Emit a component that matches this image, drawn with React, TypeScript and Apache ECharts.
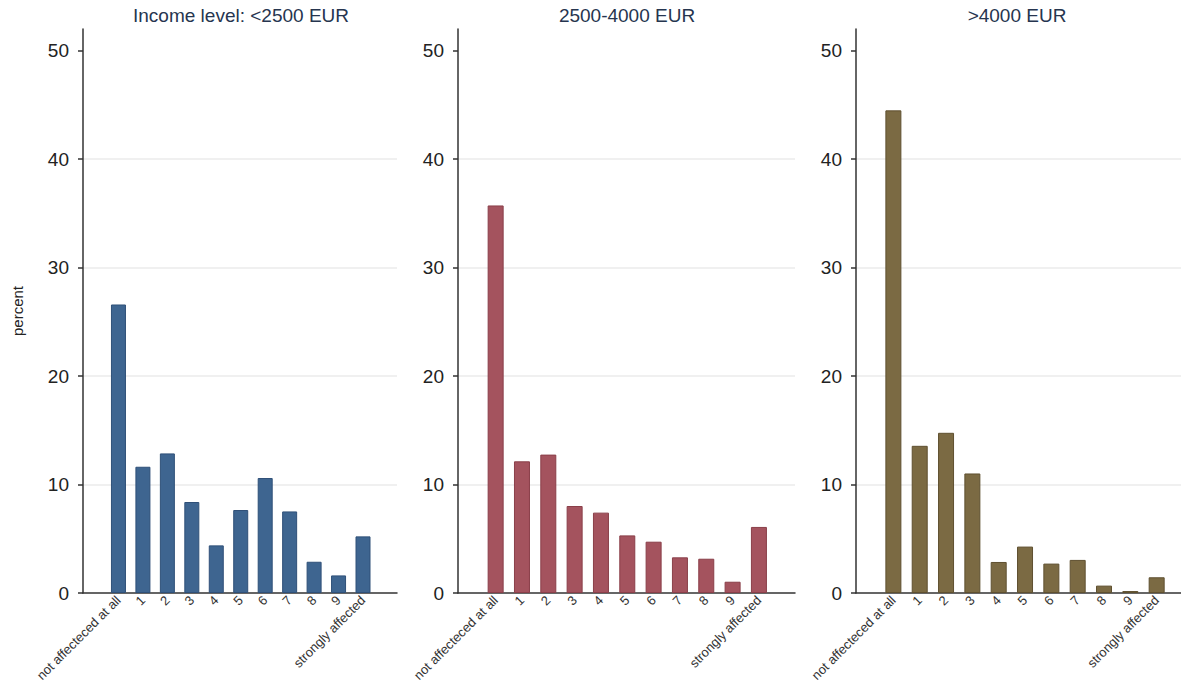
import React, { useEffect, useRef } from "react";
import * as echarts from "echarts";

const categories = [
  "not affecteced at all", "1", "2", "3", "4", "5", "6", "7", "8", "9", "strongly affected",
];
const panelTitles = ["Income level: <2500 EUR", "2500-4000 EUR", ">4000 EUR"];
const lowIncome = [26.6, 11.64, 12.87, 8.39, 4.39, 7.65, 10.6, 7.52, 2.88, 1.62, 5.22];
const midIncome = [35.73, 12.14, 12.76, 8.02, 7.41, 5.31, 4.73, 3.29, 3.16, 1.04, 6.09];
const highIncome = [44.5, 13.57, 14.77, 11.02, 2.86, 4.28, 2.71, 3.05, 0.68, 0.18, 1.45];
const yTicks = [0, 10, 20, 30, 40, 50];
const yMax = 52;

const FONT = "'Liberation Sans', Arial, Helvetica, sans-serif";
const colors = ["#3e6590", "#a4535e", "#7b6a43"];
const borders = ["#2f5078", "#8a3f49", "#5f5030"];

const layouts = [
  { left: 83, width: 314, min: -1.45, max: 11.39, barWidth: 15, titleX: 241 },
  { left: 458, width: 337, min: -1.43, max: 11.37, barWidth: 16, titleX: 627 },
  { left: 856, width: 337, min: -1.42, max: 11.38, barWidth: 16, titleX: 1017 },
];

export default function App() {
  const ref = useRef<HTMLDivElement>(null);
  useEffect(() => {
    if (!ref.current) return;
    document.body.style.margin = "0";
    const chart = echarts.init(ref.current, null, { renderer: "svg" });
    const series = [lowIncome, midIncome, highIncome];
    const xIdx = categories.map((_, i) => i);
    const option: any = {
      animation: false,
      backgroundColor: "#ffffff",
      textStyle: { fontFamily: FONT },
      graphic: layouts.map((l, i) => ({
        type: "text",
        x: l.titleX,
        y: 15,
        style: {
          text: panelTitles[i],
          fill: "#26354f",
          font: `19px ${FONT}`,
          textAlign: "center",
          textVerticalAlign: "middle",
        },
      })),
      grid: layouts.map((l) => ({
        left: l.left,
        width: l.width,
        top: 29,
        height: 564,
        containLabel: false,
        outerBoundsMode: "none",
      })),
      xAxis: layouts.map((l, i) => ({
        type: "value",
        gridIndex: i,
        min: l.min,
        max: l.max,
        axisLine: { show: true, onZero: false, lineStyle: { color: "#333333", width: 1.5 } },
        axisTick: { show: false },
        splitLine: { show: false },
        axisLabel: {
          customValues: xIdx,
          rotate: 45,
          margin: 5,
          fontSize: 13,
          color: "#333333",
          fontFamily: FONT,
          formatter: (v: number) => categories[Math.round(v)] ?? "",
        },
      })),
      yAxis: layouts.map((l, i) => ({
        type: "value",
        gridIndex: i,
        min: 0,
        max: yMax,
        interval: 10,
        name: i === 0 ? "percent" : "",
        nameLocation: "middle",
        nameGap: 58,
        nameTextStyle: { fontSize: 15, color: "#222222", fontFamily: FONT },
        axisLine: { show: true, onZero: false, lineStyle: { color: "#333333", width: 1.5 } },
        axisTick: {
          show: true,
          customValues: yTicks,
          length: 5,
          lineStyle: { color: "#333333", width: 1.5 },
        },
        axisLabel: {
          customValues: yTicks,
          margin: 14,
          fontSize: 19,
          color: "#222222",
          fontFamily: FONT,
          formatter: (v: number) => (yTicks.includes(v) ? String(v) : ""),
        },
        splitLine: {
          show: true,
          showMinLine: false,
          showMaxLine: false,
          lineStyle: { color: "#ebebeb", width: 1.5 },
        },
      })),
      series: series.map((vals, i) => ({
        type: "bar",
        xAxisIndex: i,
        yAxisIndex: i,
        barWidth: layouts[i].barWidth,
        itemStyle: { color: colors[i], borderColor: borders[i], borderWidth: 1 },
        data: vals.map((v, k) => [xIdx[k], v]),
      })),
    };
    chart.setOption(option);
    return () => chart.dispose();
  }, []);
  return (
    <div
      ref={ref}
      style={{ position: "fixed", left: 0, top: 0, width: 1181, height: 686, background: "#fff" }}
    />
  );
}
